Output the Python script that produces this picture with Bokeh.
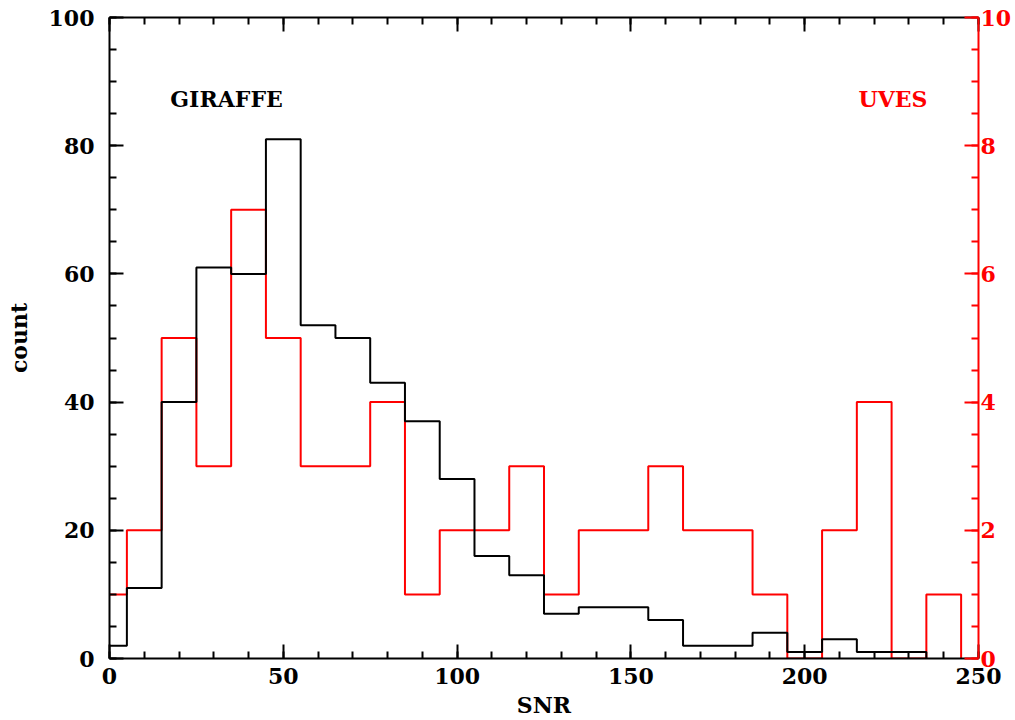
from bokeh.plotting import figure
from bokeh.models import LinearAxis, Range1d, FixedTicker, Label
from bokeh.embed import file_html
from bokeh.resources import INLINE

# ---- data ----
bin_centers = [0, 10, 20, 30, 40, 50, 60, 70, 80, 90, 100, 110, 120, 130, 140,
               150, 160, 170, 180, 190, 200, 210, 220, 230, 240]
giraffe_counts = [2, 11, 40, 61, 60, 81, 52, 50, 43, 37, 28, 16, 13, 7, 8,
                  8, 6, 2, 2, 4, 1, 3, 1, 1, 0]
uves_counts = [1, 2, 5, 3, 7, 5, 3, 3, 4, 1, 2, 2, 3, 1, 2,
               2, 3, 2, 2, 1, 0, 2, 4, 0, 1]
bin_width = 10
x_ticks = [0, 50, 100, 150, 200, 250]
left_ticks = [0, 20, 40, 60, 80, 100]
right_ticks = [0, 2, 4, 6, 8, 10]

FONT = "DejaVu Serif"
FS = "22px"


def outline(centers, counts, width):
    xs, ys = [], []
    for c, n in zip(centers, counts):
        lo = max(c - width / 2, 0)
        hi = c + width / 2
        xs += [lo, hi]
        ys += [n, n]
    while ys and ys[-1] == 0:
        xs = xs[:-2]
        ys = ys[:-2]
    xs.append(xs[-1])
    ys.append(0)
    return xs, ys


p = figure(width=1015, height=720, output_backend="svg", toolbar_location=None,
           x_range=Range1d(0, 250), y_range=Range1d(0, 100),
           min_border_left=109, min_border_right=37, min_border_top=17,
           min_border_bottom=62)
p.extra_y_ranges = {"uves": Range1d(0, 10)}
p.grid.visible = False
p.outline_line_color = None
p.background_fill_color = "white"
p.border_fill_color = "white"

ux, uy = outline(bin_centers, uves_counts, bin_width)
gx, gy = outline(bin_centers, giraffe_counts, bin_width)
p.line(ux, uy, y_range_name="uves", line_color="#ff0000", line_width=2)
p.line(gx, gy, line_color="black", line_width=2)


def style(ax, color, ticks, minor, labels=True):
    ax.ticker = FixedTicker(ticks=ticks, minor_ticks=minor)
    ax.axis_line_color = color
    ax.axis_line_width = 2
    ax.major_tick_line_color = color
    ax.minor_tick_line_color = color
    ax.major_tick_line_width = 2
    ax.minor_tick_line_width = 2
    ax.major_tick_in = 14
    ax.major_tick_out = 0
    ax.minor_tick_in = 7
    ax.minor_tick_out = 0
    ax.major_label_text_font = FONT
    ax.major_label_text_font_size = FS
    ax.major_label_text_font_style = "bold"
    ax.major_label_text_color = color
    ax.axis_label_text_font = FONT
    ax.axis_label_text_font_size = FS
    ax.axis_label_text_font_style = "bold"
    ax.axis_label_text_color = color
    if not labels:
        ax.major_label_text_font_size = "0px"
        ax.major_label_text_alpha = 0


xminor = list(range(0, 251, 10))
yminor = list(range(0, 101, 5))
rminor = [i * 0.5 for i in range(0, 21)]

bx = p.xaxis[0]
style(bx, "black", x_ticks, xminor)
bx.axis_label = "SNR"
bx.major_label_standoff = 9
bx.axis_label_standoff = 5

ly = p.yaxis[0]
style(ly, "black", left_ticks, yminor)
ly.axis_label = "count"
ly.major_label_standoff = 15
ly.axis_label_standoff = 14

top = LinearAxis()
style(top, "black", x_ticks, xminor, labels=False)
p.add_layout(top, "above")

right = LinearAxis(y_range_name="uves")
style(right, "#ff0000", right_ticks, rminor)
right.major_label_standoff = 2
p.add_layout(right, "right")

p.add_layout(Label(x=17.5, y=87.3, text="GIRAFFE", text_font=FONT,
                   text_font_size="22px", text_font_style="bold",
                   text_color="black", text_baseline="alphabetic"))
p.add_layout(Label(x=235.3, y=87.3, text="UVES", text_font=FONT,
                   text_font_size="22px", text_font_style="bold",
                   text_color="#ff0000", text_align="right",
                   text_baseline="alphabetic"))

open("out.html", "w").write(file_html(p, INLINE))
